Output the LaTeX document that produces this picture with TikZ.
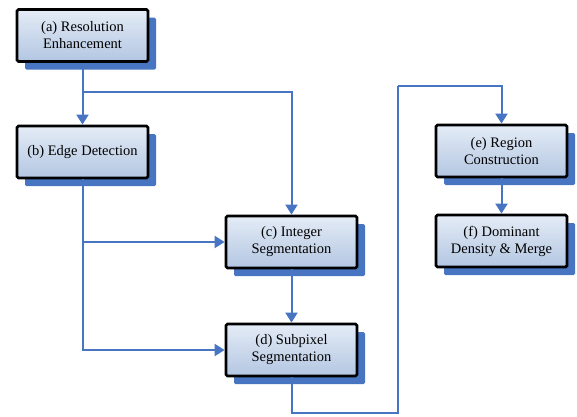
\documentclass[tikz,border=0pt]{standalone}
\usepackage{fontspec}
\setmainfont{Liberation Serif}
\usepackage{xcolor}
\usetikzlibrary{shadows,arrows.meta}

\definecolor{linkblue}{HTML}{4775C2}
\definecolor{boxtop}{HTML}{E4ECF6}
\definecolor{boxbot}{HTML}{B3C6E2}

\tikzset{
  stage/.style={draw=black, line width=2.8pt, rounded corners=1.5pt,
    top color=boxtop, bottom color=boxbot,
    minimum width=131pt, minimum height=52pt, align=center,
    font=\fontsize{14.5}{17}\selectfont,
    drop shadow={shadow xshift=8pt, shadow yshift=-8pt, fill=linkblue, opacity=1}},
  link/.style={draw=linkblue, line width=2pt, -{Triangle[width=12pt,length=10pt]}},
  wire/.style={draw=linkblue, line width=2pt}
}

\begin{document}
\begin{tikzpicture}[x=1pt, y=-1pt]
  \useasboundingbox (0,0) rectangle (577,416);

  %% Stages
  \node[stage] (res) at (82.5,35.5) {(a) Resolution\\Enhancement};
  \node[stage] (edge) at (82.5,152) {(b) Edge Detection};
  \node[stage] (intseg) at (291.5,242) {(c) Integer\\Segmentation};
  \node[stage] (subseg) at (291.5,350) {(d) Subpixel\\Segmentation};
  \node[stage] (region) at (501.5,151) {(e) Region\\Construction};
  \node[stage] (merge) at (501.5,241) {(f) Dominant\\Density \& Merge};

  %% Turning points
  \coordinate (split) at (82.5,92);
  \coordinate (low) at (398,413);
  \coordinate (high) at (398,86);

  %% Connectors
  \draw[link] (res.south) -- (edge.north);
  \draw[link] (split) -| (intseg.north);
  \draw[link] (edge.south) |- (intseg.west);
  \draw[link] (edge.south) |- (subseg.west);
  \draw[link] (intseg.south) -- (subseg.north);
  \draw[wire] (subseg.south) |- (low) -- (high);
  \draw[link] (high) -| (region.north);
  \draw[link] (region.south) -- (merge.north);
\end{tikzpicture}
\end{document}
